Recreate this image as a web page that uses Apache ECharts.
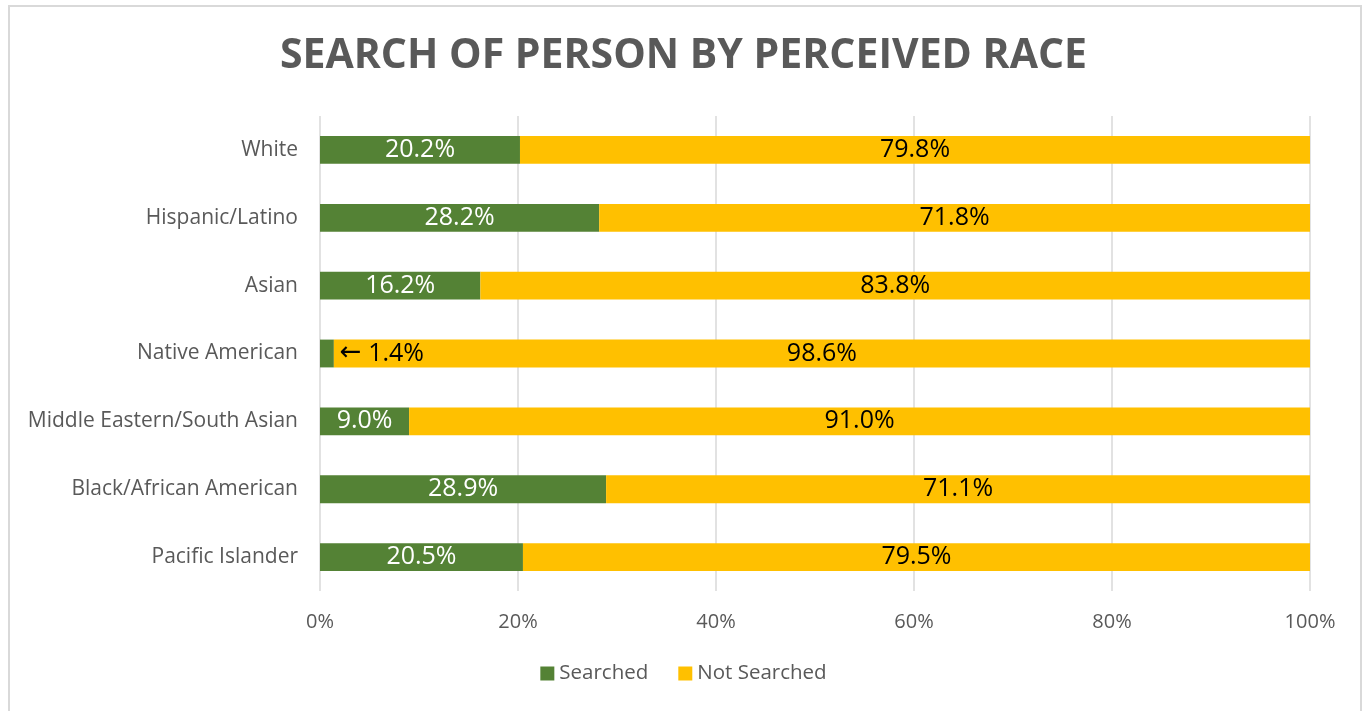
<!DOCTYPE html>
<html>
<head>
<meta charset="utf-8">
<script src="https://cdn.jsdelivr.net/npm/echarts@6/dist/echarts.min.js"></script>
<style>
  html, body { margin: 0; padding: 0; background: #fff; }
  #chart { width: 1367px; height: 711px; }
  .frame { position: absolute; left: 8px; top: 5px; width: 1354px; height: 720px; border: 2px solid #d9d9d9; box-sizing: border-box; pointer-events: none; }
</style>
</head>
<body>
<div id="chart"></div>
<div class="frame"></div>
<script>
// categories top to bottom
const categories = ['White', 'Hispanic/Latino', 'Asian', 'Native American', 'Middle Eastern/South Asian', 'Black/African American', 'Pacific Islander']
const searched = [20.2, 28.2, 16.2, 1.4, 9.0, 28.9, 20.5]
const notSearched = [79.8, 71.8, 83.8, 98.6, 91.0, 71.1, 79.5]
const xTicks = [0, 20, 40, 60, 80, 100]

const font = 'Open Sans'
const chart = echarts.init(document.getElementById('chart'))

// y axis is inverse so White sits on top
const searchedData = searched.map((v, i) => {
  const item = { value: v }
  if (v < 5) {
    // too thin for an inside label, point at it from the right
    item.label = {
      position: 'right',
      color: '#000',
      distance: 6,
      formatter: '{arrow|\u2190} {c}%',
      rich: {
        arrow: { fontFamily: 'DejaVu Sans', fontSize: 26, color: '#000' }
      }
    }
  }
  return item
})

const option = {
  animation: false,
  title: {
    text: 'SEARCH OF PERSON BY PERCEIVED RACE',
    left: 'center',
    top: 31,
    textStyle: { fontFamily: font, fontWeight: 'bold', fontSize: 41, color: '#595959' }
  },
  legend: {
    bottom: 22,
    left: 'center',
    itemWidth: 14,
    itemHeight: 14,
    itemGap: 30,
    icon: 'rect',
    textStyle: { fontFamily: font, fontSize: 20.5, color: '#595959' },
    data: ['Searched', 'Not Searched']
  },
  grid: { left: 320, right: 57, top: 116, bottom: 120, containLabel: false },
  xAxis: {
    type: 'value',
    min: 0,
    max: 100,
    interval: 20,
    axisLine: { show: false },
    axisTick: { show: false },
    splitLine: { lineStyle: { color: '#d9d9d9', width: 1.5 } },
    axisLabel: {
      margin: 21,
      fontFamily: font, fontSize: 20, color: '#595959',
      formatter: v => xTicks.includes(v) ? v + '%' : ''
    }
  },
  yAxis: {
    type: 'category',
    inverse: true,
    data: categories,
    axisLine: { show: false },
    axisTick: { show: false },
    axisLabel: { margin: 22, fontFamily: font, fontSize: 21, color: '#595959' }
  },
  series: [
    {
      name: 'Searched',
      type: 'bar',
      stack: 'total',
      barWidth: '41%',
      itemStyle: { color: '#548235' },
      label: {
        show: true, position: 'inside', color: '#fff',
        fontFamily: font, fontSize: 25,
        formatter: p => p.value.toFixed(1) + '%'
      },
      data: searchedData
    },
    {
      name: 'Not Searched',
      type: 'bar',
      stack: 'total',
      barWidth: '41%',
      itemStyle: { color: '#FFC000' },
      label: {
        show: true, position: 'inside', color: '#000',
        fontFamily: font, fontSize: 25,
        formatter: p => p.value.toFixed(1) + '%'
      },
      data: notSearched
    }
  ]
}

chart.setOption(option)
</script>
</body>
</html>
